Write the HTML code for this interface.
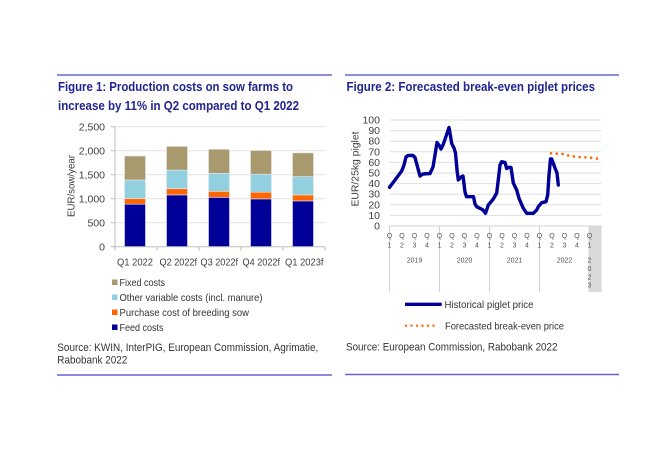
<!DOCTYPE html>
<html>
<head>
<meta charset="utf-8">
<style>
  html,body{margin:0;padding:0;background:#fff;}
  svg{display:block;}
  text{font-family:"Liberation Sans",Arial,sans-serif;}
</style>
</head>
<body>
<svg width="650" height="449" viewBox="0 0 650 449" xmlns="http://www.w3.org/2000/svg">
  <rect x="0" y="0" width="650" height="449" fill="#fff"/>

  <!-- ===== Figure 1 ===== -->
  <line x1="57" y1="75" x2="332" y2="75" stroke="#6565d2" stroke-width="1.5"/>
  <text x="58" y="91" font-size="13" font-weight="bold" fill="#22238f" textLength="235" lengthAdjust="spacingAndGlyphs">Figure 1: Production costs on sow farms to</text>
  <text x="58" y="110" font-size="13" font-weight="bold" fill="#22238f" textLength="241" lengthAdjust="spacingAndGlyphs">increase by 11% in Q2 compared to Q1 2022</text>

  <!-- gridlines -->
  <g stroke="#e3e3e3" stroke-width="1">
    <line x1="115" y1="126.7" x2="325" y2="126.7"/>
    <line x1="115" y1="150.7" x2="325" y2="150.7"/>
    <line x1="115" y1="174.7" x2="325" y2="174.7"/>
    <line x1="115" y1="198.7" x2="325" y2="198.7"/>
    <line x1="115" y1="222.7" x2="325" y2="222.7"/>
  </g>

  <!-- bars -->
  <g stroke="#e8e8f0" stroke-width="0.6">
    <!-- Q1 2022 -->
    <rect x="124.5" y="204.2" width="21" height="42.5" fill="#000099"/>
    <rect x="124.5" y="198.5" width="21" height="5.7" fill="#ff6600"/>
    <rect x="124.5" y="180.0" width="21" height="18.5" fill="#92d0e0"/>
    <rect x="124.5" y="156.0" width="21" height="24.0" fill="#a89a6c"/>
    <!-- Q2 2022f -->
    <rect x="166.5" y="194.9" width="21" height="51.8" fill="#000099"/>
    <rect x="166.5" y="188.6" width="21" height="6.3" fill="#ff6600"/>
    <rect x="166.5" y="170.1" width="21" height="18.5" fill="#92d0e0"/>
    <rect x="166.5" y="146.4" width="21" height="23.7" fill="#a89a6c"/>
    <!-- Q3 2022f -->
    <rect x="208.5" y="197.3" width="21" height="49.4" fill="#000099"/>
    <rect x="208.5" y="191.3" width="21" height="6.0" fill="#ff6600"/>
    <rect x="208.5" y="173.3" width="21" height="18.0" fill="#92d0e0"/>
    <rect x="208.5" y="149.3" width="21" height="24.0" fill="#a89a6c"/>
    <!-- Q4 2022f -->
    <rect x="250.5" y="198.9" width="21" height="47.8" fill="#000099"/>
    <rect x="250.5" y="192.2" width="21" height="6.7" fill="#ff6600"/>
    <rect x="250.5" y="174.2" width="21" height="18.0" fill="#92d0e0"/>
    <rect x="250.5" y="150.5" width="21" height="23.7" fill="#a89a6c"/>
    <!-- Q1 2023f -->
    <rect x="292.5" y="200.9" width="21" height="45.8" fill="#000099"/>
    <rect x="292.5" y="194.9" width="21" height="6.0" fill="#ff6600"/>
    <rect x="292.5" y="176.6" width="21" height="18.3" fill="#92d0e0"/>
    <rect x="292.5" y="152.9" width="21" height="23.7" fill="#a89a6c"/>
  </g>

  <!-- axes -->
  <g stroke="#bdbdbd" stroke-width="1">
    <line x1="115" y1="126.7" x2="115" y2="246.7"/>
    <line x1="115" y1="246.7" x2="325" y2="246.7"/>
    <line x1="111" y1="126.7" x2="115" y2="126.7"/>
    <line x1="111" y1="150.7" x2="115" y2="150.7"/>
    <line x1="111" y1="174.7" x2="115" y2="174.7"/>
    <line x1="111" y1="198.7" x2="115" y2="198.7"/>
    <line x1="111" y1="222.7" x2="115" y2="222.7"/>
    <line x1="111" y1="246.7" x2="115" y2="246.7"/>
    <line x1="115" y1="246.7" x2="115" y2="250.7"/>
    <line x1="157" y1="246.7" x2="157" y2="250.7"/>
    <line x1="199" y1="246.7" x2="199" y2="250.7"/>
    <line x1="241" y1="246.7" x2="241" y2="250.7"/>
    <line x1="283" y1="246.7" x2="283" y2="250.7"/>
    <line x1="325" y1="246.7" x2="325" y2="250.7"/>
  </g>

  <!-- y labels -->
  <g font-size="10.5" fill="#404040" text-anchor="end">
    <text x="105" y="130.5">2,500</text>
    <text x="105" y="154.5">2,000</text>
    <text x="105" y="178.5">1,500</text>
    <text x="105" y="202.5">1,000</text>
    <text x="105" y="226.5">500</text>
    <text x="105" y="250.5">0</text>
  </g>
  <text transform="translate(74.5,186) rotate(-90)" font-size="10" fill="#404040" text-anchor="middle" textLength="62" lengthAdjust="spacingAndGlyphs">EUR/sow/year</text>

  <!-- x labels -->
  <g font-size="10.5" fill="#404040">
    <text x="117" y="265.5" textLength="36" lengthAdjust="spacingAndGlyphs">Q1 2022</text>
    <text x="159.5" y="265.5" textLength="37.5" lengthAdjust="spacingAndGlyphs">Q2 2022f</text>
    <text x="200.5" y="265.5" textLength="37.5" lengthAdjust="spacingAndGlyphs">Q3 2022f</text>
    <text x="242.5" y="265.5" textLength="37.5" lengthAdjust="spacingAndGlyphs">Q4 2022f</text>
    <text x="285" y="265.5" textLength="38.5" lengthAdjust="spacingAndGlyphs">Q1 2023f</text>
  </g>

  <!-- legend -->
  <rect x="112" y="279.5" width="5.5" height="5.5" fill="#a89a6c"/>
  <rect x="112" y="294.5" width="5.5" height="5.5" fill="#92d0e0"/>
  <rect x="112" y="309.5" width="5.5" height="5.5" fill="#ff6600"/>
  <rect x="112" y="324.5" width="5.5" height="5.5" fill="#000099"/>
  <g font-size="10.5" fill="#333">
    <text x="119.5" y="286" textLength="45.5" lengthAdjust="spacingAndGlyphs">Fixed costs</text>
    <text x="119.5" y="301" textLength="143" lengthAdjust="spacingAndGlyphs">Other variable costs (incl. manure)</text>
    <text x="119.5" y="316" textLength="129.5" lengthAdjust="spacingAndGlyphs">Purchase cost of breeding sow</text>
    <text x="119.5" y="331" textLength="44" lengthAdjust="spacingAndGlyphs">Feed costs</text>
  </g>

  <!-- source -->
  <g font-size="11" fill="#333">
    <text x="57.3" y="351" textLength="261" lengthAdjust="spacingAndGlyphs">Source: KWIN, InterPIG, European Commission, Agrimatie,</text>
    <text x="57.3" y="363.5" textLength="70" lengthAdjust="spacingAndGlyphs">Rabobank 2022</text>
  </g>
  <line x1="57" y1="375" x2="332" y2="375" stroke="#6565d2" stroke-width="1.5"/>

  <!-- ===== Figure 2 ===== -->
  <line x1="345" y1="75" x2="619" y2="75" stroke="#6565d2" stroke-width="1.5"/>
  <text x="346.5" y="91" font-size="13" font-weight="bold" fill="#22238f" textLength="248.5" lengthAdjust="spacingAndGlyphs">Figure 2: Forecasted break-even piglet prices</text>

  <!-- gridlines -->
  <g stroke="#dedede" stroke-width="1">
    <line x1="390" y1="120" x2="601" y2="120"/>
    <line x1="390" y1="130.6" x2="601" y2="130.6"/>
    <line x1="390" y1="141.2" x2="601" y2="141.2"/>
    <line x1="390" y1="151.8" x2="601" y2="151.8"/>
    <line x1="390" y1="162.4" x2="601" y2="162.4"/>
    <line x1="390" y1="173" x2="601" y2="173"/>
    <line x1="390" y1="183.6" x2="601" y2="183.6"/>
    <line x1="390" y1="194.2" x2="601" y2="194.2"/>
    <line x1="390" y1="204.8" x2="601" y2="204.8"/>
    <line x1="390" y1="215.4" x2="601" y2="215.4"/>
  </g>

  <!-- x axis area -->
  <rect x="588.5" y="226" width="13" height="66" fill="#d9d9d9"/>
  <g stroke="#d3d3d3" stroke-width="1">
    <line x1="389.5" y1="226" x2="601.5" y2="226"/>
    <line x1="389.5" y1="226" x2="389.5" y2="292"/>
    <line x1="439.5" y1="226" x2="439.5" y2="292"/>
    <line x1="489.5" y1="226" x2="489.5" y2="292"/>
    <line x1="539.5" y1="226" x2="539.5" y2="292"/>
  </g>

  <!-- y labels -->
  <g font-size="10.5" fill="#404040" text-anchor="end">
    <text x="380" y="123.5">100</text>
    <text x="380" y="134.1">90</text>
    <text x="380" y="144.7">80</text>
    <text x="380" y="155.3">70</text>
    <text x="380" y="165.9">60</text>
    <text x="380" y="176.5">50</text>
    <text x="380" y="187.1">40</text>
    <text x="380" y="197.7">30</text>
    <text x="380" y="208.3">20</text>
    <text x="380" y="218.9">10</text>
    <text x="380" y="229.5">0</text>
  </g>
  <text transform="translate(358.5,169) rotate(-90)" font-size="10" fill="#404040" text-anchor="middle" textLength="75" lengthAdjust="spacingAndGlyphs">EUR/25kg piglet</text>

  <!-- quarter labels -->
  <g font-size="7" fill="#555" text-anchor="middle">
    <text x="389.5" y="238">Q</text><text x="389.5" y="247.5">1</text>
    <text x="402" y="238">Q</text><text x="402" y="247.5">2</text>
    <text x="414.5" y="238">Q</text><text x="414.5" y="247.5">3</text>
    <text x="427" y="238">Q</text><text x="427" y="247.5">4</text>
    <text x="439.5" y="238">Q</text><text x="439.5" y="247.5">1</text>
    <text x="452" y="238">Q</text><text x="452" y="247.5">2</text>
    <text x="464.5" y="238">Q</text><text x="464.5" y="247.5">3</text>
    <text x="477" y="238">Q</text><text x="477" y="247.5">4</text>
    <text x="489.5" y="238">Q</text><text x="489.5" y="247.5">1</text>
    <text x="502" y="238">Q</text><text x="502" y="247.5">2</text>
    <text x="514.5" y="238">Q</text><text x="514.5" y="247.5">3</text>
    <text x="527" y="238">Q</text><text x="527" y="247.5">4</text>
    <text x="539.5" y="238">Q</text><text x="539.5" y="247.5">1</text>
    <text x="552" y="238">Q</text><text x="552" y="247.5">2</text>
    <text x="564.5" y="238">Q</text><text x="564.5" y="247.5">3</text>
    <text x="577" y="238">Q</text><text x="577" y="247.5">4</text>
    <text x="589.5" y="238">Q</text><text x="589.5" y="247.5">1</text>
    <text x="414.5" y="262.5">2019</text>
    <text x="464.5" y="262.5">2020</text>
    <text x="514.5" y="262.5">2021</text>
    <text x="564.5" y="262.5">2022</text>
    <text x="589.5" y="262.5">2</text>
    <text x="589.5" y="271">0</text>
    <text x="589.5" y="279.3">2</text>
    <text x="589.5" y="287.7">3</text>
  </g>

  <!-- historical line -->
  <polyline fill="none" stroke="#000099" stroke-width="3.4" stroke-linejoin="round" stroke-linecap="round"
    points="389.5,187.3 395,180 401.7,171 404,165 406,157 408,155.5 413,155.5 415,157.5 417,165 420,176 423,174 430,173.5 433,167 435,155 437,142.5 439,145 441,149 443,145 446.5,135 449,127.5 450.5,136 451.7,143.5 454,148 455.5,153 457,170 458.3,180 461,177 463,176 465,192 466.5,196.7 473.5,196.7 475,204 476.7,206.7 480,208.3 483,210 485.5,213.3 488.3,205 490,203 493.3,199 496.7,193 498.5,178 500,165 501.7,161.7 505,162.5 506.7,168.5 509,167.3 511,167.5 513.3,183 516.7,190 519,198.3 523.3,208.3 526.7,213.3 533.3,213.3 536.7,210 538.3,206.7 541.7,202.7 546,201.7 547.7,195 549,175 550.5,159 551.7,159 555,168 557,173 558.3,185"/>

  <!-- forecast dotted -->
  <polyline fill="none" stroke="#ff6600" stroke-width="2.6" stroke-linecap="round" stroke-dasharray="0 5.8"
    points="551,153.3 563,154 570,156 581,157.3 587,157.3 600,159"/>

  <!-- legend -->
  <line x1="405" y1="304.3" x2="441.7" y2="304.3" stroke="#000099" stroke-width="3.4"/>
  <text x="444.5" y="308" font-size="10.5" fill="#333" textLength="89" lengthAdjust="spacingAndGlyphs">Historical piglet price</text>
  <line x1="406" y1="325.7" x2="434" y2="325.7" stroke="#ff6600" stroke-width="2.4" stroke-linecap="round" stroke-dasharray="0 5.5"/>
  <text x="445" y="329.5" font-size="10.5" fill="#333" textLength="119" lengthAdjust="spacingAndGlyphs">Forecasted break-even price</text>

  <!-- source -->
  <text x="346" y="350.5" font-size="11" fill="#333" textLength="211.5" lengthAdjust="spacingAndGlyphs">Source: European Commission, Rabobank 2022</text>
  <line x1="345" y1="374.5" x2="619" y2="374.5" stroke="#6565d2" stroke-width="1.5"/>
</svg>
</body>
</html>
